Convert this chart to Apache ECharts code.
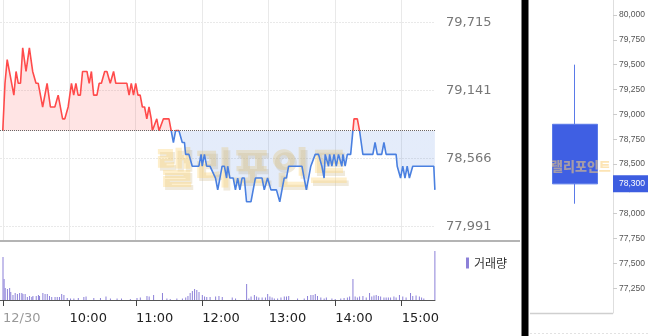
<!DOCTYPE html>
<html><head><meta charset="utf-8">
<script src="https://cdn.jsdelivr.net/npm/echarts@6/dist/echarts.min.js"></script>
<style>html,body{margin:0;padding:0;background:#fff}#c{width:648px;height:336px}</style>
</head><body><div id="c"></div>
<script>
const prevClose = 78800;
// minutes after 09:00
const priceMinutes = [0,2,4,6,10,12,14,16,18,21,
24,27,30,32,36,40,43,47,50,54,
56,59,62,64,66,68,70,72,76,78,
80,82,85,87,89,92,94,97,98,100,
102,112,114,116,118,120,122,124,126,128,
130,132,134,135,139,141,145,150,152,154,
156,159,162,164,165,168,171,177,179,180,
182,184,187,192,194,196,198,200,202,203,
205,208,210,212,214,216,218,220,224,226,
228,234,236,239,240,242,247,250,252,254,
256,258,270,272,274,276,278,282,285,288,
290,291,294,295,297,299,301,303,306,307,
309,311,314,316,317,320,322,323,325,334,
336,338,342,344,346,355,356,359,361,363,
365,367,370,389,390];
const priceValues = [78800,79200,79400,79300,79100,79300,79200,79200,79500,79300,
79500,79300,79200,79200,79000,79200,79000,79000,79100,78900,
78900,79000,79200,79100,79200,79100,79100,79300,79300,79200,
79300,79100,79100,79200,79200,79300,79300,79200,79200,79300,
79200,79200,79100,79200,79100,79200,79100,79100,79000,79000,
78900,79000,78900,78800,78900,78800,78900,78900,78800,78700,
78800,78800,78700,78700,78600,78600,78500,78500,78600,78500,
78600,78500,78500,78400,78300,78400,78500,78500,78400,78500,
78400,78400,78300,78400,78300,78400,78400,78200,78200,78300,
78400,78400,78300,78400,78400,78300,78300,78200,78300,78400,
78400,78500,78500,78400,78300,78400,78500,78600,78600,78500,
78400,78600,78500,78600,78500,78600,78500,78600,78500,78600,
78500,78600,78600,78800,78900,78900,78800,78800,78600,78600,
78700,78600,78600,78700,78600,78600,78500,78400,78500,78400,
78500,78400,78500,78500,78300];
const volMinutes = [0,1,2,4,6,7,9,11,13,15,17,18,20,22,24,26,27,30,32,33,36,38,40,42,44,47,49,51,53,55,58,61,64,68,73,75,82,88,93,97,103,107,115,121,124,130,132,136,144,148,151,157,162,165,167,169,171,173,175,177,180,182,184,187,192,195,198,207,210,220,222,224,227,229,231,234,237,239,241,243,245,248,251,254,256,258,266,272,275,278,280,282,284,287,290,292,297,300,305,308,311,313,316,318,320,322,325,328,331,333,335,337,339,341,344,346,348,350,353,355,358,361,364,368,370,373,376,378,380,390];
const volValues = [43000,21000,12000,11000,12000,8000,5000,7000,6000,7000,7000,6000,6000,3000,4000,3000,4000,4000,5000,4000,7000,6000,6000,4000,3000,3000,3000,3000,6000,5000,2000,1500,1500,2000,3000,3500,2000,2000,3500,1500,1500,1500,1000,2000,2500,4000,3500,5000,7000,1500,1000,1500,1500,2500,4000,7000,9000,11000,10000,8000,5000,3500,3000,3000,3500,4000,3000,2500,1500,16000,1500,3500,5000,3500,2500,2500,2500,6000,3500,2500,1500,1500,2500,3500,3500,4000,1500,1500,4000,5000,5000,6000,4000,2500,1500,2500,1500,1000,1500,2000,2500,3500,21000,3500,2500,3500,4000,2500,7000,3500,4500,5000,4000,3500,2500,2500,2500,2500,3500,2500,5000,3500,2500,7000,4000,4500,3500,2500,1500,49000];
const xTickMinutes = [0,60,120,180,240,300,360];
const xTickLabels = ['12/30','10:00','11:00','12:00','13:00','14:00','15:00'];
const priceTicks = [77991,78566,79141,79715];
const candleTicks = [77250,77500,77750,78000,78250,78500,78750,79000,79250,79500,79750,80000];
const candleCategory = ['12/30'];
const candleOHLC = [78900,78300,78100,79500]; // open, close, low, high

const fmt = n => String(Math.round(n)).replace(/\B(?=(\d{3})+(?!\d))/g, ',');
const chart = echarts.init(document.getElementById('c'), null, {renderer:'canvas'});
const linePts = priceMinutes.map((m,i)=>[m, priceValues[i]]);
const volPts = volMinutes.map((m,i)=>[m, volValues[i]]);
const xMin = -2.5, xMax = 390.1;
const yMin = 77868.5, yMax = 79903.3;

chart.setOption({
  animation:false,
  backgroundColor:'#fff',
  grid:[
    {left:0, top:0, width:435, height:241},
    {left:0, top:242, width:435, height:58},
    {left:537, top:0, width:76, height:313}
  ],
  xAxis:[
    {gridIndex:0, type:'value', min:xMin, max:xMax,
     axisLine:{show:false}, axisLabel:{show:false},
     axisTick:{show:false, customValues:xTickMinutes},
     splitLine:{show:true, lineStyle:{color:'#e9e9e9', width:1}}},
    {gridIndex:1, type:'value', min:xMin, max:xMax,
     axisLine:{show:true, lineStyle:{color:'#555', width:1}},
     axisTick:{show:true, customValues:xTickMinutes, length:6, lineStyle:{color:'#444'}},
     axisLabel:{show:true, customValues:xTickMinutes, align:'left', margin:12,
       fontFamily:'DejaVu Sans', fontSize:13,
       formatter:v=>{const i=xTickMinutes.indexOf(v); return i===0?'{g|'+xTickLabels[0]+'}':'{k|'+xTickLabels[i]+'}';},
       rich:{g:{color:'#999',fontFamily:'DejaVu Sans',fontSize:13}, k:{color:'#222',fontFamily:'DejaVu Sans',fontSize:13}}},
     splitLine:{show:false}},
    {gridIndex:2, type:'category', data:candleCategory, show:false}
  ],
  yAxis:[
    {gridIndex:0, type:'value', position:'right', min:yMin, max:yMax, scale:true,
     axisLine:{show:false}, axisTick:{show:false, customValues:priceTicks},
     axisLabel:{show:true, customValues:priceTicks, margin:11, color:'#777', fontFamily:'DejaVu Sans', fontSize:13, formatter:v=>fmt(v)},
     splitLine:{show:true, lineStyle:{color:'#e9e9e9', width:1, type:[2,1]}}},
    {gridIndex:1, type:'value', min:0, max:58000, show:false},
    {gridIndex:2, type:'value', position:'right', min:77000, max:80151, scale:true,
     axisLine:{show:true, lineStyle:{color:'#dedede'}},
     axisTick:{show:true, length:4, customValues:candleTicks, lineStyle:{color:'#ccc'}},
     axisLabel:{show:true, customValues:candleTicks, margin:6, color:'#555', fontFamily:'Liberation Sans', fontSize:8.5, formatter:v=>fmt(v)},
     splitLine:{show:false}}
  ],
  visualMap:{type:'piecewise', show:false, seriesIndex:0, dimension:1,
    pieces:[{gt:prevClose, lte:yMax+1000, color:'#ff4b4b'},{gt:yMin-1000, lte:prevClose, color:'#4a80e0'}]},
  legend:{data:['거래량'], left:461, top:252, icon:'rect', itemWidth:3, itemHeight:11,
    textStyle:{fontFamily:'Noto Sans CJK KR', fontSize:12, color:'#333'}},
  series:[
    {type:'line', name:'price', xAxisIndex:0, yAxisIndex:0, data:linePts, symbol:'none',
     lineStyle:{width:1.6}, areaStyle:{origin:prevClose, opacity:0.15}, z:3,
     markLine:{silent:true, symbol:'none', label:{show:false},
       lineStyle:{color:'#666', type:'dotted', width:1}, data:[{yAxis:prevClose}]}},
    {type:'bar', name:'거래량', xAxisIndex:1, yAxisIndex:1, data:volPts, barWidth:1,
     itemStyle:{color:'#8c80d8'}},
    {type:'candlestick', name:'candle', xAxisIndex:2, yAxisIndex:2, data:[candleOHLC], barWidth:46,
     itemStyle:{color:'#e04040', borderColor:'#e04040', color0:'#3f5fe3', borderColor0:'#5a7ae8', borderWidth:1},
     markLine:{silent:true, symbol:'none', lineStyle:{color:'rgba(0,0,0,0)', width:0},
       label:{show:true, position:'end', distance:0, formatter:p=>fmt(p.value), color:'#fff',
         backgroundColor:'#3d5de0', padding:[4,3,4,6], fontFamily:'Liberation Sans', fontSize:8.5},
       data:[{yAxis:candleOHLC[1]}]}}
  ],
  graphic:[
    {type:'rect', shape:{x:0, y:240, width:520, height:2}, style:{fill:'#b4b4b4'}, z:5},
    {type:'rect', shape:{x:521.5, y:0, width:7, height:336}, style:{fill:'#000'}, z:5},
    {type:'line', shape:{x1:530, y1:313.5, x2:613, y2:313.5}, style:{stroke:'#cfcfcf', lineWidth:1.5}, z:5},
    {type:'line', shape:{x1:530, y1:333.5, x2:648, y2:333.5}, style:{stroke:'#e2e2e2', lineWidth:1, lineDash:[2,2]}, z:5},
    {type:'text', x:157, y:170, z:1, style:{text:'랠리포인트', font:'900 42px "Noto Sans CJK KR"', fill:'rgba(205,185,140,0.3)', textVerticalAlign:'middle'}},
    {type:'text', x:155, y:167, z:1, style:{text:'랠리포인트', font:'900 42px "Noto Sans CJK KR"', fill:'rgba(253,214,120,0.38)', textVerticalAlign:'middle'}},
    {type:'text', x:551, y:166, z:20, style:{text:'랠리포인트', font:'900 13px "Noto Sans CJK KR"', fill:'rgba(250,205,120,0.55)', textVerticalAlign:'middle'}}
  ]
});
</script></body></html>
